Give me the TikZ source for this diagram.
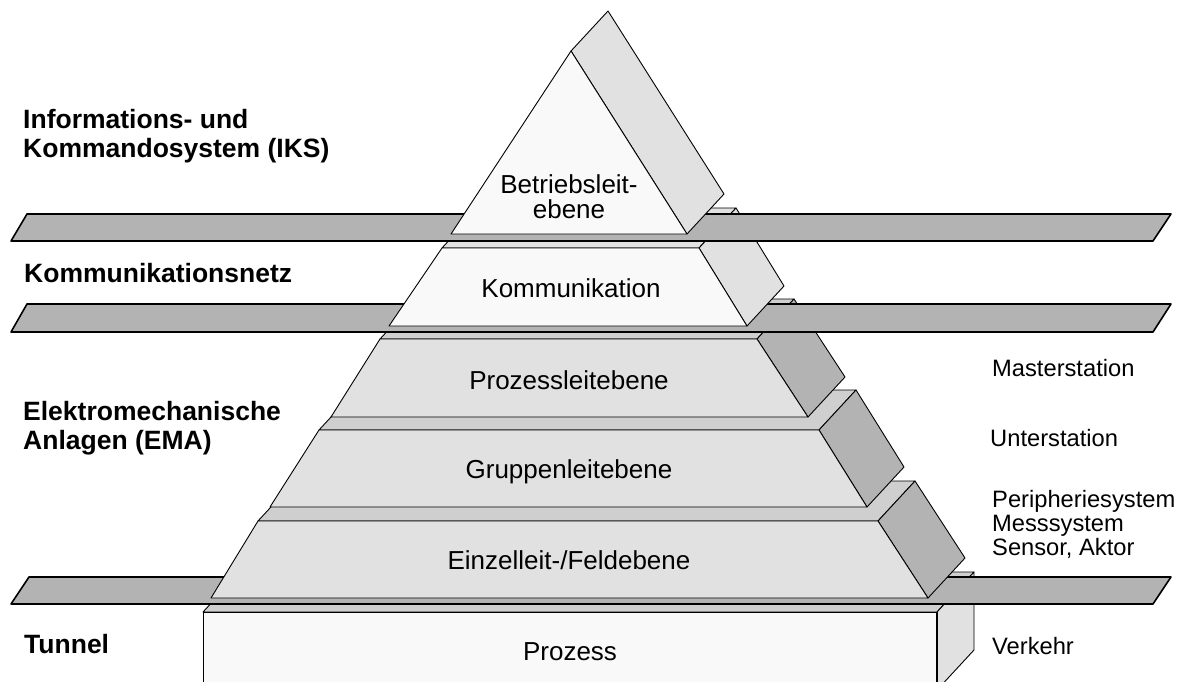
\documentclass[tikz,border=0pt]{standalone}
\usepackage{fontspec}
\setmainfont{Liberation Sans}
\usetikzlibrary{positioning}
\definecolor{paleface}{HTML}{F9F9F9}
\definecolor{lightface}{HTML}{E1E1E1}
\definecolor{midface}{HTML}{CFCFCF}
\definecolor{darkface}{HTML}{B3B3B3}
\tikzset{
  face/.style={draw=black,line width=0.9pt,line join=round},
  net/.style={draw=black,fill=darkface,line width=1.6pt,line join=round},
  lvl/.style={font=\fontsize{26}{25}\selectfont,align=center,inner sep=0pt},
  grp/.style={font=\bfseries\fontsize{26.5}{29}\selectfont,align=left,inner sep=0pt},
  dev/.style={font=\fontsize{23.7}{24}\selectfont,align=left,inner sep=0pt},
}

\begin{document}
\begin{tikzpicture}[x=1pt,y=-1pt]
\useasboundingbox (0,0) rectangle (1185,682);
\clip (0,0) rectangle (1185,682);
% -prozess box-
\draw[face,fill=midface] (203,612) -- ++(37,-40) -- (974,572) -- (937,612) -- cycle;
\draw[face,fill=lightface] (937,612) -- ++(37,-40) -- (974,650) -- (937,690) -- cycle;
\draw[face,fill=paleface] (203,612) rectangle (937,690);
\draw[line width=1.8pt] (937,612) -- (937,690);
\draw[net] (11,604) -- (29,577) -- (1171,577) -- (1153,604) -- cycle;
% -lower levels, bottom first-
\foreach \a/\b/\c/\d/\yt/\yb in {258/878/928/211/521/598,319/819/867/270/430/507,380/757/808/331/339/417}{
  \draw[face,fill=midface] (\a,\yt) -- ++(37,-40) -- ({\b+37},{\yt-40}) -- (\b,\yt) -- cycle;
  \draw[face,fill=darkface] (\b,\yt) -- ++(37,-40) -- ({\c+37},{\yb-40}) -- (\c,\yb) -- cycle;
  \draw[face,fill=lightface] (\a,\yt) -- (\b,\yt) -- (\c,\yb) -- (\d,\yb) -- cycle;
}
\draw[net] (11,332) -- (27,304) -- (1171,304) -- (1153,332) -- cycle;
% -kommunikation-
\draw[face,fill=lightface] (442,248) -- ++(37,-40) -- (736,208) -- (699,248) -- cycle;
\draw[face,fill=lightface] (699,248) -- ++(37,-40) -- (784,286) -- (747,326) -- cycle;
\draw[face,fill=paleface] (442,248) -- (699,248) -- (747,326) -- (389,326) -- cycle;
\draw[net] (11,241) -- (27,214) -- (1171,214) -- (1153,241) -- cycle;
% -betriebsleitebene-
\draw[face,fill=lightface] (571,51) -- ++(37,-40) -- (724,194) -- (687,234) -- cycle;
\draw[face,fill=paleface] (571,51) -- (687,234) -- (451,234) -- cycle;
% -texts in the pyramid-
\node[lvl] (betrieb) at (569,197) {Betriebsleit-\\ebene};
\node[lvl,anchor=base] (komm) at (571,297.5) {Kommunikation};
\node[lvl,anchor=base] (prozessl) at (569,389.5) {Prozessleitebene};
\node[lvl,anchor=base] (gruppe) at (569,478.5) {Gruppenleitebene};
\node[lvl,anchor=base] (feld) at (569,569.5) {Einzelleit-/Feldebene};
\node[lvl,anchor=base] (prozess) at (570,660.5) {Prozess};
% -left-
\node[grp,anchor=west] (iks) at (23,135.8) {Informations- und\\Kommandosystem (IKS)};
\node[grp,anchor=base west] (netz) at (24,282) {Kommunikationsnetz};
\node[grp,anchor=west] (ema) at (23,427.8) {Elektromechanische\\Anlagen (EMA)};
\node[grp,anchor=base west] (tunnel) at (24,653) {Tunnel};
% -right-
\node[dev,anchor=base west] (master) at (992,376) {Masterstation};
\node[dev,anchor=base west] (unter) at (990,446) {Unterstation};
\node[dev,anchor=west] (peri) at (992,524) {Peripheriesystem\\Messsystem\\Sensor, Aktor};
\node[dev,anchor=base west] (verkehr) at (992,654) {Verkehr};
\end{tikzpicture}
\end{document}
